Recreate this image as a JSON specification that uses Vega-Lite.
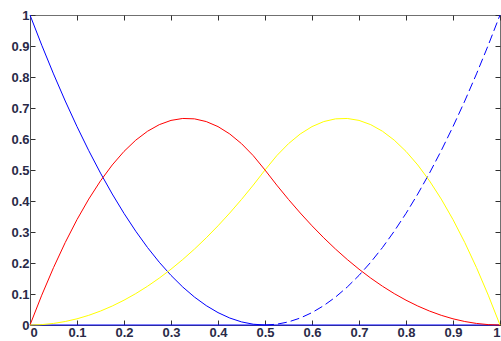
{
  "$schema": "https://vega.github.io/schema/vega-lite/v6.json",
  "autosize": "none",
  "width": 470,
  "height": 310,
  "padding": {"left": 30, "top": 15, "right": 1, "bottom": 16},
  "background": "white",
  "config": {
    "view": {"stroke": "#707070", "strokeWidth": 1},
    "axis": {
      "title": null,
      "grid": false,
      "domainColor": "#505050",
      "tickColor": "#303030",
      "tickSize": -5,
      "labelFont": "Liberation Sans",
      "labelFontSize": 13,
      "labelFontWeight": "bold",
      "labelColor": "#2a2a48",
      "format": "~g"
    }
  },
  "data": {
    "values": [
      {"x": 0, "blue": 1, "red": 0, "yellow": 0},
      {"x": 0.025, "blue": 0.9025, "red": 0.09625, "yellow": 0.00125},
      {"x": 0.05, "blue": 0.81, "red": 0.185, "yellow": 0.005},
      {"x": 0.075, "blue": 0.7225, "red": 0.26625, "yellow": 0.01125},
      {"x": 0.1, "blue": 0.64, "red": 0.34, "yellow": 0.02},
      {"x": 0.125, "blue": 0.5625, "red": 0.40625, "yellow": 0.03125},
      {"x": 0.15, "blue": 0.49, "red": 0.465, "yellow": 0.045},
      {"x": 0.175, "blue": 0.4225, "red": 0.51625, "yellow": 0.06125},
      {"x": 0.2, "blue": 0.36, "red": 0.56, "yellow": 0.08},
      {"x": 0.225, "blue": 0.3025, "red": 0.59625, "yellow": 0.10125},
      {"x": 0.25, "blue": 0.25, "red": 0.625, "yellow": 0.125},
      {"x": 0.275, "blue": 0.2025, "red": 0.64625, "yellow": 0.15125},
      {"x": 0.3, "blue": 0.16, "red": 0.66, "yellow": 0.18},
      {"x": 0.325, "blue": 0.1225, "red": 0.66625, "yellow": 0.21125},
      {"x": 0.35, "blue": 0.09, "red": 0.665, "yellow": 0.245},
      {"x": 0.375, "blue": 0.0625, "red": 0.65625, "yellow": 0.28125},
      {"x": 0.4, "blue": 0.04, "red": 0.64, "yellow": 0.32},
      {"x": 0.425, "blue": 0.0225, "red": 0.61625, "yellow": 0.36125},
      {"x": 0.45, "blue": 0.01, "red": 0.585, "yellow": 0.405},
      {"x": 0.475, "blue": 0.0025, "red": 0.54625, "yellow": 0.45125},
      {"x": 0.5, "blue": 0, "red": 0.5, "yellow": 0.5},
      {"x": 0.525, "blue": 0.0025, "red": 0.45125, "yellow": 0.54625},
      {"x": 0.55, "blue": 0.01, "red": 0.405, "yellow": 0.585},
      {"x": 0.575, "blue": 0.0225, "red": 0.36125, "yellow": 0.61625},
      {"x": 0.6, "blue": 0.04, "red": 0.32, "yellow": 0.64},
      {"x": 0.625, "blue": 0.0625, "red": 0.28125, "yellow": 0.65625},
      {"x": 0.65, "blue": 0.09, "red": 0.245, "yellow": 0.665},
      {"x": 0.675, "blue": 0.1225, "red": 0.21125, "yellow": 0.66625},
      {"x": 0.7, "blue": 0.16, "red": 0.18, "yellow": 0.66},
      {"x": 0.725, "blue": 0.2025, "red": 0.15125, "yellow": 0.64625},
      {"x": 0.75, "blue": 0.25, "red": 0.125, "yellow": 0.625},
      {"x": 0.775, "blue": 0.3025, "red": 0.10125, "yellow": 0.59625},
      {"x": 0.8, "blue": 0.36, "red": 0.08, "yellow": 0.56},
      {"x": 0.825, "blue": 0.4225, "red": 0.06125, "yellow": 0.51625},
      {"x": 0.85, "blue": 0.49, "red": 0.045, "yellow": 0.465},
      {"x": 0.875, "blue": 0.5625, "red": 0.03125, "yellow": 0.40625},
      {"x": 0.9, "blue": 0.64, "red": 0.02, "yellow": 0.34},
      {"x": 0.925, "blue": 0.7225, "red": 0.01125, "yellow": 0.26625},
      {"x": 0.95, "blue": 0.81, "red": 0.005, "yellow": 0.185},
      {"x": 0.975, "blue": 0.9025, "red": 0.00125, "yellow": 0.09625},
      {"x": 1, "blue": 1, "red": 0, "yellow": 0}
    ]
  },
  "resolve": {"axis": {"x": "independent", "y": "independent"}},
  "layer": [
    {
      "data": {"values": [{"level": 0}]},
      "mark": {"type": "rule", "color": "#0000ff", "strokeWidth": 1},
      "encoding": {
        "y": {
          "field": "level",
          "type": "quantitative",
          "scale": {"domain": [0, 1], "nice": false, "zero": false},
          "axis": {"orient": "left", "values": [0, 0.1, 0.2, 0.3, 0.4, 0.5, 0.6, 0.7, 0.8, 0.9, 1], "labelPadding": 6}
        }
      }
    },
    {
      "transform": [{"filter": "datum.x <= 0.5"}],
      "mark": {"type": "line", "color": "#0000ff", "strokeWidth": 1},
      "encoding": {
        "x": {
          "field": "x",
          "type": "quantitative",
          "scale": {"domain": [0, 1], "nice": false, "zero": false},
          "axis": {"orient": "bottom", "values": [0, 0.1, 0.2, 0.3, 0.4, 0.5, 0.6, 0.7, 0.8, 0.9, 1], "labelPadding": 6}
        },
        "y": {"field": "blue", "type": "quantitative", "axis": null}
      }
    },
    {
      "transform": [{"filter": "datum.x >= 0.5"}],
      "mark": {"type": "line", "color": "#0000ff", "strokeWidth": 1, "strokeDash": [9, 4]},
      "encoding": {
        "x": {"field": "x", "type": "quantitative", "axis": null},
        "y": {"field": "blue", "type": "quantitative", "axis": null}
      }
    },
    {
      "mark": {"type": "line", "color": "#ff0000", "strokeWidth": 1},
      "encoding": {
        "x": {"field": "x", "type": "quantitative", "axis": null},
        "y": {"field": "red", "type": "quantitative", "axis": null}
      }
    },
    {
      "mark": {"type": "line", "color": "#ffff00", "strokeWidth": 1},
      "encoding": {
        "x": {"field": "x", "type": "quantitative", "axis": null},
        "y": {"field": "yellow", "type": "quantitative", "axis": null}
      }
    },
    {
      "mark": {"type": "line", "opacity": 0},
      "encoding": {
        "x": {
          "field": "x",
          "type": "quantitative",
          "axis": {"orient": "top", "labels": false, "domain": false, "values": [0, 0.1, 0.2, 0.3, 0.4, 0.5, 0.6, 0.7, 0.8, 0.9, 1]}
        },
        "y": {
          "field": "red",
          "type": "quantitative",
          "axis": {"orient": "right", "labels": false, "domain": false, "values": [0, 0.1, 0.2, 0.3, 0.4, 0.5, 0.6, 0.7, 0.8, 0.9, 1]}
        }
      }
    }
  ]
}
